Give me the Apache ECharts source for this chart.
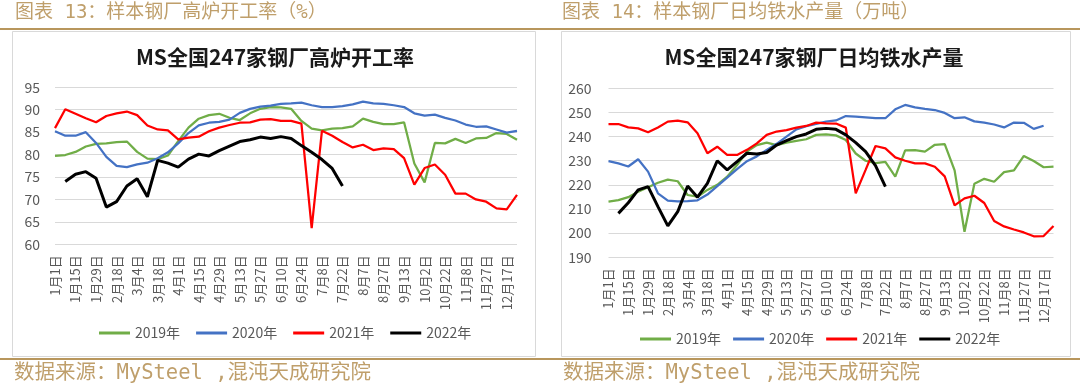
<!DOCTYPE html>
<html><head><meta charset="utf-8">
<script src="https://cdn.jsdelivr.net/npm/echarts@6/dist/echarts.min.js"></script>
<style>html,body{margin:0;padding:0;background:#fff}#c{width:1080px;height:386px}</style>
</head><body><div id="c"></div>
<script>
const categories = ['1月1日','1月8日','1月15日','1月22日','1月29日','2月5日','2月18日','2月25日','3月4日','3月11日',
  '3月18日','3月25日','4月1日','4月8日','4月15日','4月22日','4月29日','5月6日','5月13日','5月20日',
  '5月27日','6月3日','6月10日','6月17日','6月24日','7月1日','7月8日','7月15日','7月22日','7月29日',
  '8月7日','8月17日','8月27日','9月3日','9月13日','9月23日','10月2日','10月12日','10月22日','10月29日',
  '11月8日','11月18日','11月27日','12月8日','12月17日','12月24日'];
const seriesNames = ['2019年','2020年','2021年','2022年'];

// 高炉开工率 (%)
const rate2019 = [79.7,79.9,80.6,81.8,82.4,82.5,82.8,82.9,80.6,79.1,79.0,79.8,83.0,86.0,88.0,88.8,89.1,88.2,87.7,89.2,
  90.2,90.6,90.5,90.2,87.5,85.8,85.4,85.8,85.9,86.3,88.0,87.3,86.8,86.8,87.2,78.0,73.8,82.6,82.5,83.5,
  82.6,83.6,83.7,84.8,84.6,83.3];
const rate2020 = [85.2,84.2,84.2,85.0,82.6,79.5,77.5,77.2,77.8,78.2,79.2,80.5,82.5,84.8,86.5,87.1,87.3,87.8,89.3,90.2,
  90.7,90.9,91.3,91.4,91.6,91.0,90.6,90.6,90.8,91.2,91.8,91.4,91.3,91.0,90.6,89.2,88.7,88.9,88.2,87.6,
  86.7,86.2,86.3,85.6,84.9,85.3];
const rate2021 = [85.9,90.1,89.1,88.1,87.2,88.6,89.2,89.6,88.8,86.5,85.6,85.4,83.4,83.8,84.0,85.2,86.0,86.6,87.1,87.2,
  87.8,87.9,87.5,87.5,86.9,63.6,85.3,84.2,82.8,81.6,82.2,81.0,81.4,81.2,79.2,73.3,77.0,77.8,75.5,71.3,
  71.3,70.0,69.5,68.0,67.8,71.0];
const rate2022 = [null,74.0,75.6,76.2,74.7,68.3,69.5,73.0,74.6,70.6,78.7,78.1,77.2,79.0,80.1,79.7,80.9,81.9,82.9,83.3,
  83.9,83.6,84.0,83.6,82.0,80.5,78.9,76.9,73.0];

// 日均铁水产量 (万吨)
const iron2019 = [213.1,213.7,214.9,217.2,219.0,220.9,222.2,221.5,215.8,215.1,217.9,220.0,223.4,228.2,233.8,236.5,237.5,236.5,237.5,238.2,
  238.9,240.7,240.9,240.5,238.6,233.0,230.0,229.0,229.5,223.4,234.3,234.4,233.8,236.6,236.9,226.0,200.6,220.5,222.5,221.3,
  225.3,226.0,232.0,229.9,227.3,227.6];
const iron2020 = [229.8,228.9,227.6,230.6,225.5,216.5,213.5,213.2,213.3,213.6,216.0,219.5,223.0,226.5,229.8,231.8,234.5,237.0,240.0,243.0,
  244.3,245.3,246.2,246.7,248.5,248.3,248.0,247.6,247.6,251.3,253.1,252.1,251.5,251.0,249.8,247.6,248.0,246.3,245.8,245.0,
  243.8,245.8,245.7,243.2,244.5];
const iron2021 = [245.2,245.2,243.8,243.4,241.8,243.8,246.2,246.6,245.9,241.4,233.1,235.8,232.4,232.4,234.5,237.2,240.7,242.1,242.7,243.7,
  244.4,245.8,245.5,245.4,243.7,216.5,226.2,236.1,235.1,231.4,230.0,228.9,228.9,227.5,223.5,211.5,214.4,215.5,212.5,205.0,
  202.8,201.5,200.3,198.7,198.8,203.0];
const iron2022 = [null,208.2,212.6,217.9,219.3,211.0,203.0,208.9,219.5,214.9,220.6,230.0,226.2,229.6,233.1,232.8,233.4,236.5,238.3,240.0,
  241.1,243.0,243.4,243.0,240.7,237.5,233.8,228.0,219.3];

const colors = ['#70ad47','#4472c4','#ff0000','#000000'];
const widths = [2.25,2.25,2.25,3];

const FONT = "'Noto Sans CJK SC', 'Noto Sans', sans-serif";
const HEADFONT = "'DejaVu Sans Mono', 'Noto Sans CJK SC', monospace";
const gold = '#b8965c';
const goldText = '#bf9f6b';
const gray = '#595959';

const chart = echarts.init(document.getElementById('c'), null, {renderer:'canvas'});

function mkSeries(arrs, idx) {
  return arrs.map((d,i)=>({
    name: seriesNames[i], type:'line', data:d, xAxisIndex:idx, yAxisIndex:idx,
    symbol:'none', showSymbol:false, connectNulls:false, smooth:false,
    lineStyle:{color:colors[i], width:widths[i]}, itemStyle:{color:colors[i]},
    emphasis:{disabled:true}, z: 2+i
  }));
}

function xAx(gi){
  return {type:'category', gridIndex:gi, data:categories, boundaryGap:false,
    axisLine:{show:false}, axisTick:{show:false}, splitLine:{show:false},
    axisLabel:{rotate:90, interval:1, fontSize:13, color:gray, fontFamily:FONT, margin:11}};
}
function yAx(gi,min,max,itv,margin){
  return {type:'value', gridIndex:gi, min:min, max:max, interval:itv,
    axisLine:{show:false}, axisTick:{show:false},
    splitLine:{lineStyle:{color:'#d9d9d9', width:1}},
    axisLabel:{fontSize:14, color:gray, fontFamily:FONT, margin:margin}};
}
function legendAt(gi, left, top, gap){
  return {data:seriesNames, left:left, top:top, padding:0, itemWidth:31, itemHeight:3, itemGap:gap,
    icon:'rect', selectedMode:false,
    textStyle:{fontSize:14, color:gray, fontFamily:FONT}};
}

const option = {
  animation:false,
  backgroundColor:'#fff',
  grid:[
    {left:55, top:87.3, width:462, height:157},
    {left:608.5, top:88.3, width:445, height:169}
  ],
  xAxis:[xAx(0), xAx(1)],
  yAxis:[yAx(0,60,95,5,15), yAx(1,190,260,10,17)],
  legend:[legendAt(0, 99, 326, 16), legendAt(1, 640, 332, 12)],
  series:[...mkSeries([rate2019,rate2020,rate2021,rate2022],0), ...mkSeries([iron2019,iron2020,iron2021,iron2022],1)],
  graphic:[
    {type:'rect', z:-10, shape:{x:12.5, y:31.5, width:523, height:325}, style:{fill:'#fff', stroke:'#d9d9d9', lineWidth:1}},
    {type:'rect', z:-10, shape:{x:561.5, y:31.5, width:509, height:325}, style:{fill:'#fff', stroke:'#d9d9d9', lineWidth:1}},
    {type:'line', z:10, shape:{x1:0, y1:29, x2:1080, y2:29}, style:{stroke:gold, lineWidth:2}},
    {type:'line', z:10, shape:{x1:0, y1:359, x2:1080, y2:359}, style:{stroke:gold, lineWidth:2}},
    {type:'text', x:15, y:13, style:{text:'图表 13：样本钢厂高炉开工率（%）', fill:goldText, fontSize:19, fontFamily:HEADFONT, verticalAlign:'middle', align:'left'}},
    {type:'text', x:562, y:13, style:{text:'图表 14：样本钢厂日均铁水产量（万吨）', fill:goldText, fontSize:19, fontFamily:HEADFONT, verticalAlign:'middle', align:'left'}},
    {type:'text', x:14, y:374, style:{text:'数据来源：MySteel ,混沌天成研究院', fill:goldText, fontSize:20.5, fontFamily:HEADFONT, verticalAlign:'middle', align:'left'}},
    {type:'text', x:563, y:374, style:{text:'数据来源：MySteel ,混沌天成研究院', fill:goldText, fontSize:20.5, fontFamily:HEADFONT, verticalAlign:'middle', align:'left'}},
    {type:'text', x:275, y:57, style:{text:'MS全国247家钢厂高炉开工率', fill:'#1a1a1a', fontSize:21, fontWeight:'bold', fontFamily:FONT, verticalAlign:'middle', align:'center'}},
    {type:'text', x:814, y:57, style:{text:'MS全国247家钢厂日均铁水产量', fill:'#1a1a1a', fontSize:21, fontWeight:'bold', fontFamily:FONT, verticalAlign:'middle', align:'center'}}
  ]
};
chart.setOption(option);
</script></body></html>
